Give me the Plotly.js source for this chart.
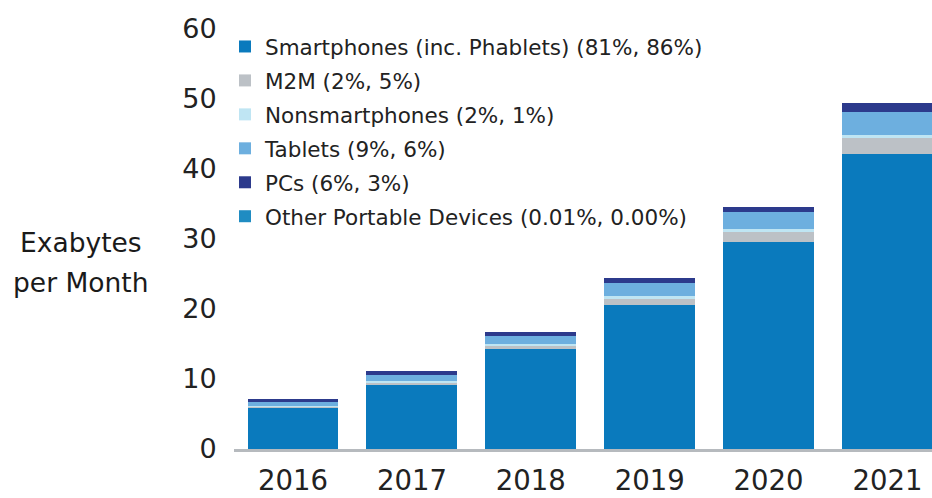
<!DOCTYPE html>
<html>
<head>
<meta charset="utf-8">
<script src="https://cdn.plot.ly/plotly-3.0.1.min.js"></script>
<style>
  html, body { margin: 0; padding: 0; background: #ffffff; }
  #chart { width: 932px; height: 498px; }
</style>
</head>
<body>
<div id="chart"></div>
<script>
// Mobile data traffic by device type, exabytes per month
const years = ['2016', '2017', '2018', '2019', '2020', '2021'];

const smartphones    = [5.8, 9.2, 14.3, 20.6, 29.6, 42.1];
const m2m            = [0.15, 0.25, 0.4, 0.9, 1.4, 2.4];
const nonsmartphones = [0.15, 0.25, 0.3, 0.4, 0.4, 0.4];
const tablets        = [0.65, 0.9, 1.1, 1.8, 2.4, 3.3];
const pcs            = [0.45, 0.6, 0.6, 0.7, 0.8, 1.2];
const otherPortable  = [0.0007, 0.001, 0.001, 0.001, 0.001, 0.0005];

const seriesNames = [
  'Smartphones (inc. Phablets) (81%, 86%)',
  'M2M (2%, 5%)',
  'Nonsmartphones (2%, 1%)',
  'Tablets (9%, 6%)',
  'PCs (6%, 3%)',
  'Other Portable Devices (0.01%, 0.00%)'
];
const seriesValues = [smartphones, m2m, nonsmartphones, tablets, pcs, otherPortable];
const seriesColors = ['#0a7abd', '#bcc1c6', '#bfe5f3', '#6dafdf', '#2c3a8c', '#1f8cc2'];

const font = 'DejaVu Sans, Verdana, sans-serif';

const traces = seriesValues.map((vals, i) => ({
  type: 'bar',
  x: years,
  y: vals,
  name: seriesNames[i],
  legendgroup: 'g' + i,
  marker: { color: seriesColors[i], line: { width: 0 } },
  hoverinfo: 'x+y+name'
}));

const layout = {
  width: 932,
  height: 498,
  paper_bgcolor: '#ffffff',
  plot_bgcolor: '#ffffff',
  margin: { l: 234, r: 0, t: 29, b: 49, autoexpand: false },
  barmode: 'stack',
  bargap: 0.235,
  showlegend: true,
  legend: {
    xref: 'container', yref: 'container',
    x: 0.2414, y: 0.9478,
    xanchor: 'left', yanchor: 'top',
    traceorder: 'grouped',
    tracegroupgap: 3,
    bgcolor: 'rgba(0,0,0,0)',
    font: { family: font, size: 21.5, color: '#222222' }
  },
  xaxis: {
    type: 'category',
    range: [-0.496, 5.374],
    showgrid: false,
    zeroline: false,
    showline: true,
    linecolor: '#b6babe',
    linewidth: 3,
    ticks: 'outside',
    ticklen: 5,
    tickcolor: 'rgba(0,0,0,0)',
    tickangle: 0,
    tickfont: { family: font, size: 27.5, color: '#222222' }
  },
  yaxis: {
    range: [0, 60],
    tickvals: [0, 10, 20, 30, 40, 50, 60],
    showgrid: false,
    zeroline: false,
    showline: false,
    ticks: 'outside',
    ticklen: 11,
    tickcolor: 'rgba(0,0,0,0)',
    tickfont: { family: font, size: 27, color: '#222222' }
  },
  annotations: [
    {
      text: 'Exabytes', xref: 'paper', yref: 'paper',
      x: -0.2192, y: 0.4905, xanchor: 'center', yanchor: 'middle',
      showarrow: false, font: { family: font, size: 26.5, color: '#1a1a1a' }
    },
    {
      text: 'per Month', xref: 'paper', yref: 'paper',
      x: -0.2192, y: 0.3976, xanchor: 'center', yanchor: 'middle',
      showarrow: false, font: { family: font, size: 26.5, color: '#1a1a1a' }
    }
  ]
};

Plotly.newPlot('chart', traces, layout, { displayModeBar: false, staticPlot: true });
</script>
</body>
</html>
